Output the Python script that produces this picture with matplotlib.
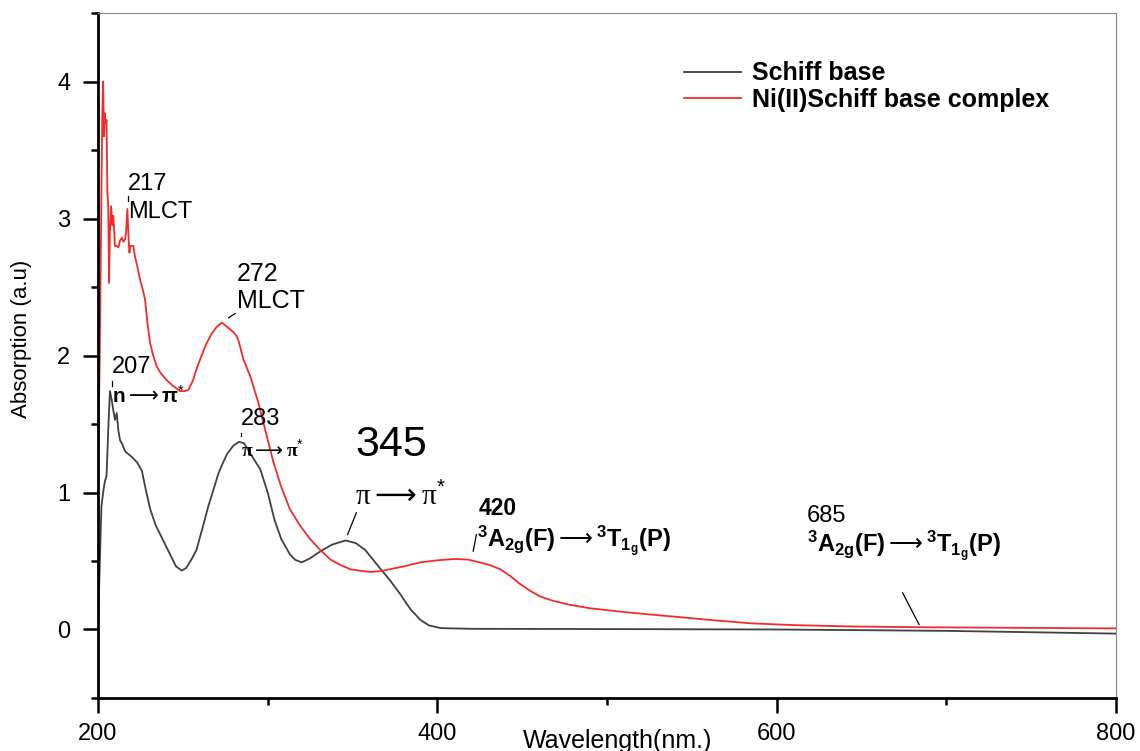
import matplotlib
matplotlib.use("Agg")
import matplotlib.pyplot as plt
from matplotlib.ticker import MultipleLocator

plt.rcParams['font.family'] = ['Liberation Sans', 'DejaVu Sans']
plt.rcParams['mathtext.fontset'] = 'custom'
plt.rcParams['mathtext.rm'] = 'Liberation Sans'
plt.rcParams['mathtext.bf'] = 'Liberation Sans:bold'
plt.rcParams['mathtext.it'] = 'Liberation Sans:italic'
plt.rcParams['mathtext.sf'] = 'DejaVu Sans'
plt.rcParams['mathtext.fallback'] = 'stixsans'

# UV-Vis spectrum of the free ligand (Schiff base)
ligand_nm = [200, 201, 202, 203, 204, 205, 206, 207, 208, 209, 210, 211, 212, 213,
             214, 216, 218, 220.7, 223, 225.8, 228, 230.7, 234, 238, 242, 246,
             249.4, 252, 255, 258, 262, 265, 268, 271, 273, 276, 279.6, 283, 286,
             289, 292, 295.6, 300, 304, 308, 313, 316, 320, 325, 331, 338, 346,
             352, 357.5, 364, 372, 378, 384, 390, 395, 402, 420, 500, 600, 700, 800]
ligand_abs = [0.0, 0.47, 0.9, 1.0, 1.08, 1.12, 1.45, 1.74, 1.68, 1.60, 1.53, 1.58,
              1.45, 1.38, 1.36, 1.30, 1.28, 1.25, 1.22, 1.16, 1.03, 0.88, 0.76,
              0.66, 0.56, 0.46, 0.43, 0.45, 0.51, 0.58, 0.76, 0.90, 1.02, 1.14,
              1.20, 1.28, 1.34, 1.37, 1.36, 1.30, 1.24, 1.17, 1.0, 0.80, 0.66,
              0.55, 0.51, 0.49, 0.52, 0.57, 0.62, 0.65, 0.63, 0.58, 0.48, 0.36,
              0.26, 0.15, 0.07, 0.03, 0.01, 0.005, 0.003, 0.0, -0.01, -0.03]

# UV-Vis spectrum of the Ni(II) complex
complex_nm = [200, 201, 202, 202.5, 203, 203.5, 204, 204.5, 205, 205.5, 206, 206.5,
              207, 207.7, 208.5, 209, 210, 211, 212, 213, 214, 215, 216, 216.5,
              217.3, 218, 218.5, 219, 220, 220.8, 221.8, 223, 224.8, 226, 227.7,
              229, 230.7, 232.5, 234.6, 237, 240.5, 244, 248.4, 251, 253.3, 256,
              258, 261, 264, 267, 270, 272.9, 275, 277, 279.8, 281.8, 283, 285.7,
              289.7, 294.6, 299.5, 303.4, 308, 313, 319, 325, 331, 337, 343,
              348.7, 354, 360.5, 366, 372, 380, 390, 400, 410.6, 418, 425, 431,
              437, 443, 449, 455, 460.8, 468, 478, 490, 508, 525, 543, 565, 585,
              610, 644, 690, 732, 770, 800]
complex_abs = [1.15, 2.0, 3.2, 3.75, 4.0, 3.6, 3.77, 3.7, 3.72, 3.2, 3.09, 2.53,
               2.9, 3.09, 2.95, 3.02, 2.80, 2.80, 2.79, 2.84, 2.86, 2.83, 2.85,
               2.90, 3.07, 2.85, 2.75, 2.80, 2.80, 2.80, 2.72, 2.66, 2.55, 2.50,
               2.41, 2.25, 2.09, 2.0, 1.92, 1.87, 1.82, 1.78, 1.74, 1.74, 1.75,
               1.82, 1.90, 2.0, 2.09, 2.16, 2.21, 2.24, 2.22, 2.20, 2.17, 2.14,
               2.10, 1.97, 1.85, 1.65, 1.41, 1.22, 1.04, 0.88, 0.76, 0.66, 0.58,
               0.51, 0.47, 0.44, 0.43, 0.42, 0.425, 0.44, 0.46, 0.49, 0.505,
               0.515, 0.51, 0.49, 0.47, 0.44, 0.39, 0.33, 0.28, 0.24, 0.21, 0.18,
               0.155, 0.13, 0.11, 0.09, 0.065, 0.045, 0.032, 0.022, 0.016, 0.013,
               0.01, 0.008]

series_labels = ["Schiff base", "Ni(II)Schiff base complex"]
x_ticks = [200, 400, 600, 800]
y_ticks = [0, 1, 2, 3, 4]

fig = plt.figure(figsize=(11.4, 7.51), dpi=100)
ax = fig.add_axes([0.086, 0.0706, 0.893, 0.912])

ax.plot(ligand_nm, ligand_abs, color='#404040', lw=1.3, label=series_labels[0])
ax.plot(complex_nm, complex_abs, color='#f52a2a', lw=1.3, label=series_labels[1])

ax.set_xlim(200, 800)
ax.set_ylim(-0.5, 4.5)
ax.set_xticks(x_ticks)
ax.set_yticks(y_ticks)
ax.xaxis.set_minor_locator(MultipleLocator(100))
ax.yaxis.set_minor_locator(MultipleLocator(0.5))

for side in ('left', 'bottom'):
    ax.spines[side].set_linewidth(2.0)
    ax.spines[side].set_color('black')
for side in ('top', 'right'):
    ax.spines[side].set_linewidth(0.8)
    ax.spines[side].set_color('#888888')

ax.tick_params(which='major', direction='out', length=11, width=1.8,
               labelsize=17, top=False, right=False)
ax.tick_params(which='minor', direction='out', length=5, width=1.8,
               top=False, right=False)
ax.tick_params(axis='x', which='major', pad=7)
ax.tick_params(axis='y', which='major', pad=9)

fig.text(22 / 1140, 1 - 339 / 751, "Absorption (a.u)", rotation=90,
         ha='center', va='center', fontsize=16)
fig.text(618 / 1140, 1 - 741 / 751, "Wavelength(nm.)", ha='center',
         va='center', fontsize=18)

leg = ax.legend(loc='upper left', bbox_to_anchor=(671 / 1140, 1 - 49 / 751),
                bbox_transform=fig.transFigure, frameon=False,
                prop={'weight': 'bold', 'size': 18}, handlelength=2.3,
                handletextpad=0.45, borderpad=0, labelspacing=0.08)

# peak annotations
def leader(x0, y0, x1, y1):
    ax.plot([x0, x1], [y0, y1], color='black', lw=0.9)

serif = ['Liberation Serif', 'DejaVu Serif']
arrow = r"$\mathsf{\longrightarrow}$"
term = r"$\mathbf{^{3}A_{2g}(F)}$" + arrow + r"$\mathbf{^{3}T_{1_{g}}(P)}$"

ax.text(217.5, 3.21, "217", fontsize=17)
ax.text(217.5, 3.007, "MLCT", fontsize=17)
leader(217.5, 3.163, 217.5, 3.126)

ax.text(281.8, 2.542, "272", fontsize=18)
ax.text(281.8, 2.35, "MLCT", fontsize=18)
leader(276.9, 2.275, 280.8, 2.307)

ax.text(208.1, 1.876, "207", fontsize=17)
ax.text(208.3, 1.657, "n" + arrow + "π$^{*}$", fontsize=15, weight='bold')
leader(208.1, 1.812, 208.1, 1.776)

ax.text(284.2, 1.496, "283", fontsize=17)
ax.text(284.2, 1.263, "π" + arrow + "π$^{*}$", fontsize=14, family=serif,
        weight='bold')
leader(284.2, 1.438, 284.2, 1.409)

ax.text(351.6, 1.265, "345", fontsize=31)
ax.text(351.6, 0.912, "π" + arrow + "π$^{*}$", fontsize=21, family=serif)
leader(347.1, 0.693, 352.2, 0.852)

ax.text(424.2, 0.839, "420", fontsize=16.5, weight='bold')
ax.text(423.4, 0.599, term, fontsize=17, weight='bold')
leader(421.1, 0.572, 423.0, 0.693)

ax.text(617.7, 0.788, "685", fontsize=17)
ax.text(617.7, 0.562, term, fontsize=17, weight='bold')
leader(674.2, 0.268, 683.9, 0.036)

fig.savefig("out.png", dpi=100)
